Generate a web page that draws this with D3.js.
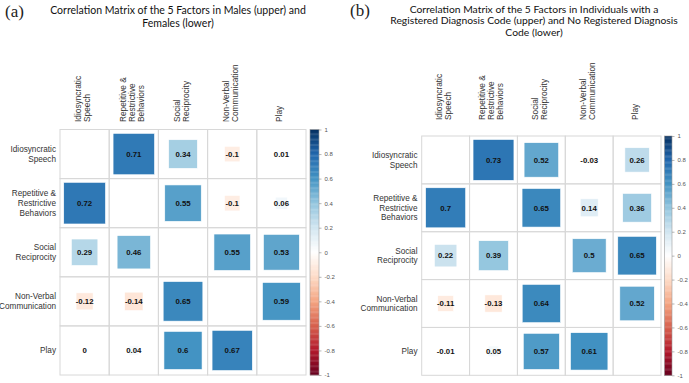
<!DOCTYPE html>
<html>
<head>
<meta charset="utf-8">
<script src="https://cdn.jsdelivr.net/npm/d3@7"></script>
<style>
  body { margin: 0; background: #fff; }
  svg { display: block; }
</style>
</head>
<body>
<svg id="chart" width="689" height="383"></svg>
<script>
// factor names, split into label lines
var factors = ["Idiosyncratic Speech", "Repetitive & Restrictive Behaviors", "Social Reciprocity", "Non-Verbal Communication", "Play"];
var factorLines = [["Idiosyncratic", "Speech"], ["Repetitive &", "Restrictive", "Behaviors"], ["Social", "Reciprocity"], ["Non-Verbal", "Communication"], ["Play"]];

// (a) males upper triangle, females lower triangle (null = diagonal)
var corrA = [
  [null, 0.71, 0.34, -0.1, 0.01],
  [0.72, null, 0.55, -0.1, 0.06],
  [0.29, 0.46, null, 0.55, 0.53],
  [-0.12, -0.14, 0.65, null, 0.59],
  [0, 0.04, 0.6, 0.67, null]
];
// (b) registered diagnosis upper, no registered diagnosis lower
var corrB = [
  [null, 0.73, 0.52, -0.03, 0.26],
  [0.7, null, 0.65, 0.14, 0.36],
  [0.22, 0.39, null, 0.5, 0.65],
  [-0.11, -0.13, 0.64, null, 0.52],
  [-0.01, 0.05, 0.57, 0.61, null]
];

var titleA = ["Correlation Matrix of the 5 Factors in Males (upper) and", "Females (lower)"];
var titleB = ["Correlation Matrix of the 5 Factors in Individuals with a", "Registered Diagnosis Code (upper) and No Registered Diagnosis", "Code (lower)"];

var colorTicks = [1, 0.8, 0.6, 0.4, 0.2, 0, -0.2, -0.4, -0.6, -0.8, -1];
var rdbu = ["#67001F", "#B2182B", "#D6604D", "#F4A582", "#FDDBC7", "#FFFFFF", "#D1E5F0", "#92C5DE", "#4393C3", "#2166AC", "#053061"];

var color = d3.scaleLinear()
    .domain(d3.range(11).map(function(i) { return -1 + i * 0.2; }))
    .range(rdbu)
    .interpolate(d3.interpolateRgb);

var svg = d3.select("#chart");

function drawPanel(opt) {
    var g = svg.append("g");
    var n = factors.length;

    var x = d3.scaleBand().domain(d3.range(n)).range([opt.x, opt.x + opt.w]);
    var y = d3.scaleBand().domain(d3.range(n)).range([opt.y, opt.y + opt.h]);

    // panel letter
    g.append("text")
        .attr("x", opt.letterX).attr("y", opt.letterY)
        .attr("font-family", "Liberation Serif, DejaVu Serif, serif")
        .attr("font-size", 17)
        .attr("fill", "#222")
        .text(opt.letter);

    // title, shrunk so the widest line fits the reference width
    var tt = g.append("g").selectAll("text")
        .data(opt.title)
        .enter().append("text")
        .attr("x", opt.titleX)
        .attr("y", function(d, i) { return opt.titleY + i * opt.titleLH; })
        .attr("text-anchor", "middle")
        .attr("font-family", "Lato, Open Sans, sans-serif")
        .attr("font-size", 12)
        .attr("fill", "#111")
        .text(function(d) { return d; });
    var maxW = d3.max(tt.nodes(), function(nd) { return nd.getComputedTextLength(); });
    tt.attr("font-size", 12 * opt.titleW / maxW);

    // grid
    var cells = [];
    for (var i = 0; i < n; i++) for (var j = 0; j < n; j++) cells.push({r: i, c: j, v: opt.data[i][j]});

    g.append("g").selectAll("rect")
        .data(cells)
        .enter().append("rect")
        .attr("x", function(d) { return x(d.c); })
        .attr("y", function(d) { return y(d.r); })
        .attr("width", x.bandwidth())
        .attr("height", y.bandwidth())
        .attr("fill", "none")
        .attr("stroke", "#d8d8d8")
        .attr("stroke-width", 1);

    var filled = cells.filter(function(d) { return d.v !== null; });

    // squares sized by |r| (area)
    g.append("g").selectAll("rect")
        .data(filled)
        .enter().append("rect")
        .attr("x", function(d) { return x(d.c) + x.bandwidth() / 2 - x.bandwidth() * Math.sqrt(Math.abs(d.v)) / 2; })
        .attr("y", function(d) { return y(d.r) + y.bandwidth() / 2 - y.bandwidth() * Math.sqrt(Math.abs(d.v)) / 2; })
        .attr("width", function(d) { return x.bandwidth() * Math.sqrt(Math.abs(d.v)); })
        .attr("height", function(d) { return y.bandwidth() * Math.sqrt(Math.abs(d.v)); })
        .attr("fill", function(d) { return color(d.v); })
        .attr("stroke", "#fff")
        .attr("stroke-width", 0.6);

    g.append("g").selectAll("text")
        .data(filled)
        .enter().append("text")
        .attr("x", function(d) { return x(d.c) + x.bandwidth() / 2; })
        .attr("y", function(d) { return y(d.r) + y.bandwidth() / 2; })
        .attr("dy", "0.35em")
        .attr("text-anchor", "middle")
        .attr("font-family", "Liberation Sans, Arial, sans-serif")
        .attr("font-weight", "bold")
        .attr("font-size", 7.8)
        .attr("fill", "#111")
        .text(function(d) { return d.v; });

    // row labels
    var rowLab = g.append("g").selectAll("text")
        .data(factorLines)
        .enter().append("text")
        .attr("text-anchor", "end")
        .attr("font-family", "Liberation Sans, Arial, sans-serif")
        .attr("font-size", 8.2)
        .attr("fill", "#333");
    rowLab.selectAll("tspan")
        .data(function(d, i) { return d.map(function(s, k) { return {s: s, k: k, n: d.length, i: i}; }); })
        .enter().append("tspan")
        .attr("x", opt.rowLabelX)
        .attr("y", function(d) { return y(d.i) + y.bandwidth() / 2 + (d.k - (d.n - 1) / 2) * opt.lineH + 3; })
        .text(function(d) { return d.s; });

    // column labels (rotated)
    var colLab = g.append("g").selectAll("text")
        .data(factorLines)
        .enter().append("text")
        .attr("transform", function(d, i) { return "translate(" + (x(i) + x.bandwidth() / 2 - 2) + "," + opt.colLabelY + ") rotate(-90)"; })
        .attr("text-anchor", "start")
        .attr("font-family", "Liberation Sans, Arial, sans-serif")
        .attr("font-size", 8.3)
        .attr("fill", "#333");
    colLab.selectAll("tspan")
        .data(function(d) { return d.map(function(s, k) { return {s: s, k: k, n: d.length}; }); })
        .enter().append("tspan")
        .attr("x", 0)
        .attr("y", function(d) { return (d.k - (d.n - 1) / 2) * opt.colLineH + 3; })
        .text(function(d) { return d.s; });

    // color bar
    var cy = d3.scaleLinear().domain([1, -1]).range([opt.y, opt.y + opt.h]);
    var steps = d3.range(200).map(function(i) { return 1 - (i + 0.5) * 2 / 200; });
    g.append("g").selectAll("rect")
        .data(steps)
        .enter().append("rect")
        .attr("x", opt.barX)
        .attr("y", function(d) { return cy(d + 0.005); })
        .attr("width", opt.barW)
        .attr("height", cy(-1) - cy(-0.99) + 0.3)
        .attr("fill", function(d) { return color(d); });
    g.append("rect")
        .attr("x", opt.barX).attr("y", opt.y)
        .attr("width", opt.barW).attr("height", opt.h)
        .attr("fill", "none").attr("stroke", "#999").attr("stroke-width", 0.6);

    var axis = d3.axisRight(cy)
        .tickValues(colorTicks)
        .tickSize(2.5)
        .tickPadding(3)
        .tickFormat(function(d) { return d; });
    var ag = g.append("g")
        .attr("transform", "translate(" + (opt.barX + opt.barW) + ",0)")
        .call(axis);
    ag.select(".domain").remove();
    ag.selectAll("line").attr("stroke", "#888").attr("stroke-width", 0.6);
    ag.selectAll("text")
        .attr("font-family", "Liberation Sans, Arial, sans-serif")
        .attr("font-size", 6)
        .attr("fill", "#555");
}

drawPanel({
    data: corrA, title: titleA, letter: "(a)",
    letterX: 5, letterY: 17, titleX: 178, titleY: 14, titleLH: 13, titleW: 256,
    x: 60, y: 129.5, w: 246, h: 245.5,
    rowLabelX: 56, lineH: 10, colLabelY: 122, colLineH: 9,
    barX: 310, barW: 9
});

drawPanel({
    data: corrB, title: titleB, letter: "(b)",
    letterX: 350, letterY: 16, titleX: 534, titleY: 12.5, titleLH: 11.7, titleW: 288,
    x: 421.7, y: 136, w: 239.3, h: 239.3,
    rowLabelX: 417.5, lineH: 9.6, colLabelY: 120, colLineH: 9,
    barX: 664.5, barW: 7.5
});
</script>
</body>
</html>
